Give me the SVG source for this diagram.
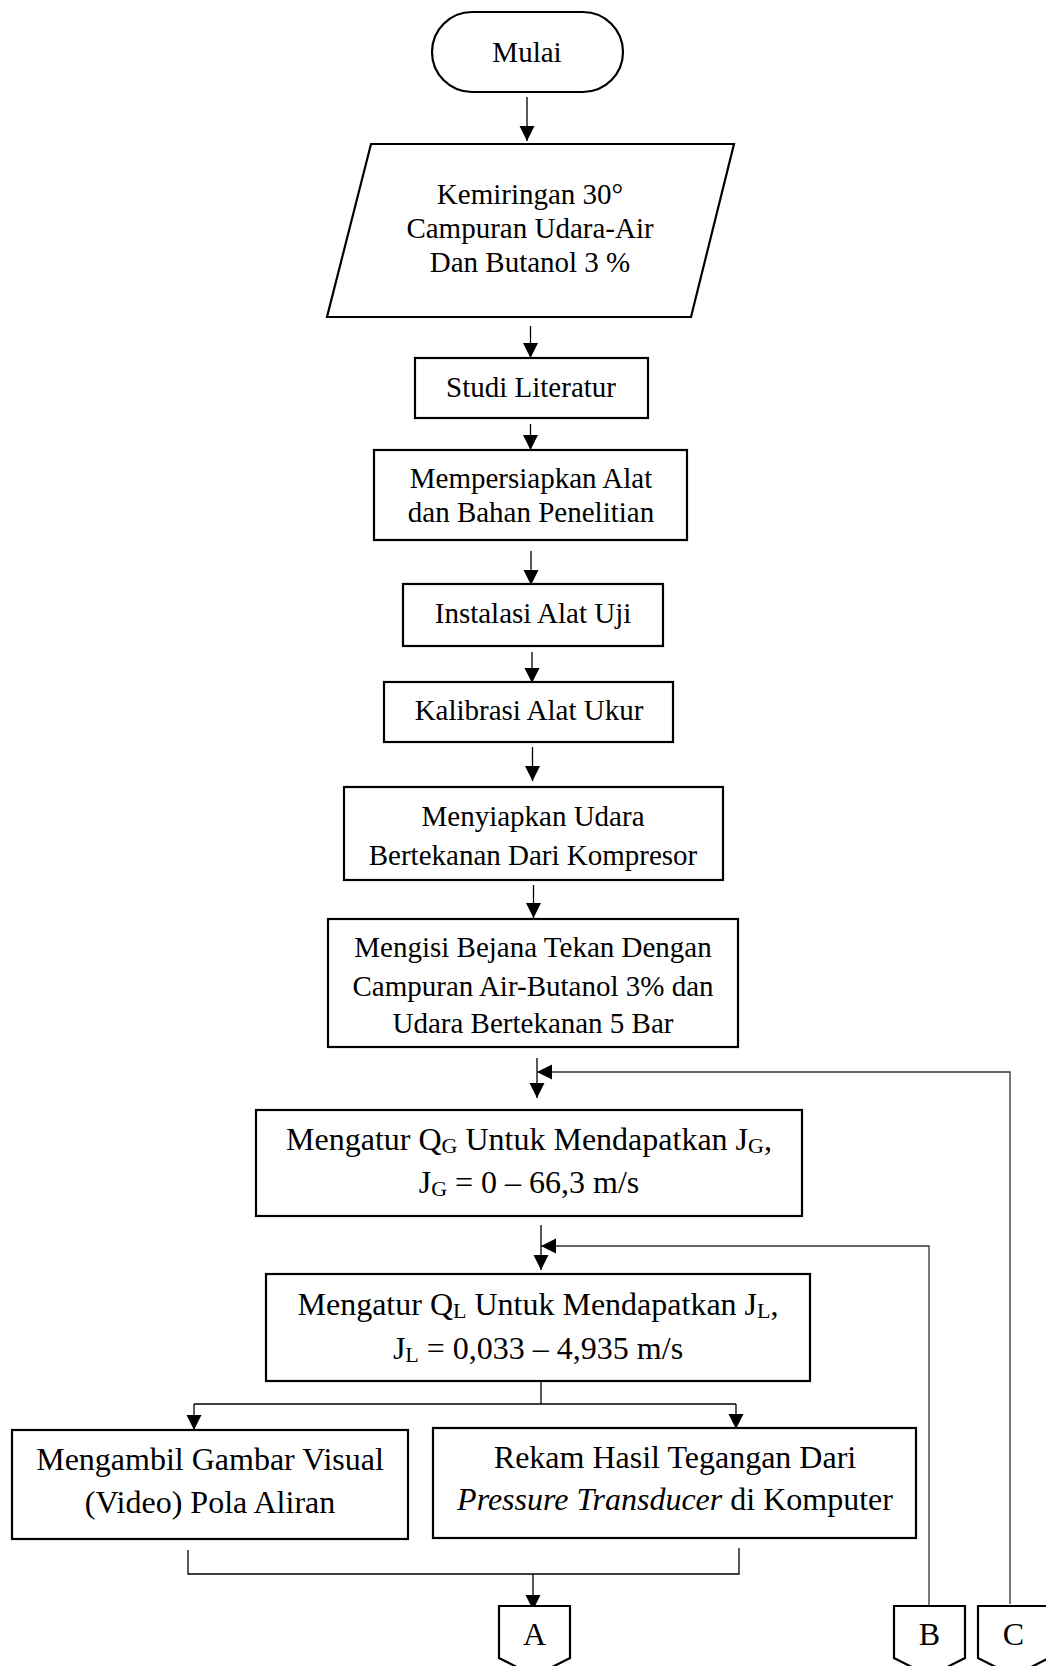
<svg xmlns="http://www.w3.org/2000/svg" width="1046" height="1666" viewBox="0 0 1046 1666">
<style>
.box{fill:#fff;stroke:#000;stroke-width:2.2}
.t{font-family:"Liberation Serif","Times New Roman",serif;font-size:29px;fill:#000;text-anchor:middle}
.t2{font-family:"Liberation Serif","Times New Roman",serif;font-size:32px;fill:#000;text-anchor:middle}
.c{fill:none;stroke:#000;stroke-width:1.3}
.cl{fill:none;stroke:#333;stroke-width:1.3}
</style>
<defs>
<marker id="ah" markerUnits="userSpaceOnUse" markerWidth="16" markerHeight="16" viewBox="0 0 16 16" refX="15" refY="7.5" orient="auto">
<path d="M0,0 L15,7.5 L0,15 z" fill="#000"/>
</marker>
</defs>
<rect width="1046" height="1666" fill="#fff"/>
<g id="connectors">
<line class="c" x1="527" y1="97" x2="527" y2="141" marker-end="url(#ah)"/>
<line class="c" x1="530.5" y1="326" x2="530.5" y2="358" marker-end="url(#ah)"/>
<line class="c" x1="530.5" y1="424" x2="530.5" y2="450" marker-end="url(#ah)"/>
<line class="c" x1="531" y1="551" x2="531" y2="585" marker-end="url(#ah)"/>
<line class="c" x1="532" y1="652" x2="532" y2="683" marker-end="url(#ah)"/>
<line class="c" x1="532.5" y1="747" x2="532.5" y2="781" marker-end="url(#ah)"/>
<line class="c" x1="533.5" y1="885" x2="533.5" y2="918" marker-end="url(#ah)"/>
<line class="c" x1="537" y1="1058" x2="537" y2="1098" marker-end="url(#ah)"/>
<polyline class="cl" points="1010,1604 1010,1072 537,1072" marker-end="url(#ah)"/>
<line class="c" x1="541" y1="1225" x2="541" y2="1270" marker-end="url(#ah)"/>
<polyline class="cl" points="929,1609 929,1246 541,1246" marker-end="url(#ah)"/>
<line class="c" x1="541" y1="1381" x2="541" y2="1404"/>
<line class="c" x1="194" y1="1404" x2="736" y2="1404"/>
<line class="c" x1="194" y1="1404" x2="194" y2="1430" marker-end="url(#ah)"/>
<line class="c" x1="736" y1="1404" x2="736" y2="1429" marker-end="url(#ah)"/>
<polyline class="c" points="188,1550 188,1574 739,1574 739,1548"/>
<line class="c" x1="533" y1="1574" x2="533" y2="1610" marker-end="url(#ah)"/>
</g>
<g id="mulai">
<rect class="box" x="432" y="12" width="191" height="80" rx="40"/>
<text class="t" x="527" y="62">Mulai</text>
</g>
<g id="input">
<polygon class="box" points="371,144 734,144 691,317 327,317"/>
<text class="t" x="530" y="204">Kemiringan 30°</text>
<text class="t" x="530" y="238">Campuran Udara-Air</text>
<text class="t" x="530" y="272">Dan Butanol 3 %</text>
</g>
<g id="studi">
<rect class="box" x="415" y="358" width="233" height="60"/>
<text class="t" x="531" y="397">Studi Literatur</text>
</g>
<g id="persiapan">
<rect class="box" x="374" y="450" width="313" height="90"/>
<text class="t" x="531" y="488">Mempersiapkan Alat</text>
<text class="t" x="531" y="522">dan Bahan Penelitian</text>
</g>
<g id="instalasi">
<rect class="box" x="403" y="584" width="260" height="62"/>
<text class="t" x="533" y="623">Instalasi Alat Uji</text>
</g>
<g id="kalibrasi">
<rect class="box" x="384" y="682" width="289" height="60"/>
<text class="t" x="529" y="720">Kalibrasi Alat Ukur</text>
</g>
<g id="menyiapkan">
<rect class="box" x="344" y="787" width="379" height="93"/>
<text class="t" x="533" y="826">Menyiapkan Udara</text>
<text class="t" x="533" y="865">Bertekanan Dari Kompresor</text>
</g>
<g id="mengisi">
<rect class="box" x="328" y="919" width="410" height="128"/>
<text class="t" x="533" y="957">Mengisi Bejana Tekan Dengan</text>
<text class="t" x="533" y="996">Campuran Air-Butanol 3% dan</text>
<text class="t" x="533" y="1033">Udara Bertekanan 5 Bar</text>
</g>
<g id="atur-qg">
<rect class="box" x="256" y="1110" width="546" height="106"/>
<text class="t2" x="529" y="1150">Mengatur Q<tspan font-size="22" dy="3">G</tspan><tspan dy="-3"> Untuk Mendapatkan J</tspan><tspan font-size="22" dy="3">G</tspan><tspan dy="-3">,</tspan></text>
<text class="t2" x="529" y="1193">J<tspan font-size="22" dy="3">G</tspan><tspan dy="-3"> = 0 – 66,3 m/s</tspan></text>
</g>
<g id="atur-ql">
<rect class="box" x="266" y="1274" width="544" height="107"/>
<text class="t2" x="538" y="1315">Mengatur Q<tspan font-size="22" dy="3">L</tspan><tspan dy="-3"> Untuk Mendapatkan J</tspan><tspan font-size="22" dy="3">L</tspan><tspan dy="-3">,</tspan></text>
<text class="t2" x="538" y="1359">J<tspan font-size="22" dy="3">L</tspan><tspan dy="-3"> = 0,033 – 4,935 m/s</tspan></text>
</g>
<g id="visual">
<rect class="box" x="12" y="1430" width="396" height="109"/>
<text class="t2" x="210" y="1470">Mengambil Gambar Visual</text>
<text class="t2" x="210" y="1513">(Video) Pola Aliran</text>
</g>
<g id="rekam">
<rect class="box" x="433" y="1428" width="483" height="110"/>
<text class="t2" x="675" y="1468">Rekam Hasil Tegangan Dari</text>
<text class="t2" x="675" y="1510"><tspan font-style="italic">Pressure Transducer</tspan> di Komputer</text>
</g>
<g id="conn-a">
<polygon class="box" points="499,1606 570,1606 570,1658 534.5,1676 499,1658"/>
<text class="t2" x="534.5" y="1645">A</text>
</g>
<g id="conn-b">
<polygon class="box" points="894,1606 965,1606 965,1658 929.5,1676 894,1658"/>
<text class="t2" x="929.5" y="1645">B</text>
</g>
<g id="conn-c">
<polygon class="box" points="978,1606 1049,1606 1049,1658 1013.5,1676 978,1658"/>
<text class="t2" x="1013.5" y="1645">C</text>
</g>
</svg>
